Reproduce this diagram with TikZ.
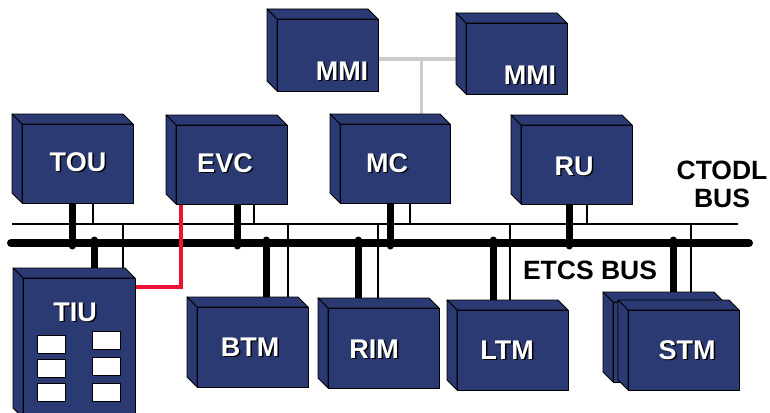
\documentclass[tikz,border=0pt]{standalone}
\usepackage{fontspec}
\setmainfont{Liberation Sans}
\usetikzlibrary{backgrounds,fit}
\definecolor{unitBlue}{HTML}{2B3A72}
\definecolor{linkRed}{HTML}{EE1133}
\definecolor{mmiGrey}{HTML}{CCCCCC}
% 3D unit: name, left, top, right, bottom of the front face
\newcommand{\unitbox}[5]{%
  \draw[unitside] (#2,#3) -- (#2-10,#3-10) -- (#4-10,#3-10) -- (#4,#3) -- cycle;
  \draw[unitside] (#2,#3) -- (#2-10,#3-10) -- (#2-10,#5-10) -- (#2,#5) -- cycle;
  \node[unit, fit={(#2,#3) (#4,#5)}] (#1) {};}
% white label with dark drop shadow
\newcommand{\shlabel}[4]{%
  \node[lblshadow] (#1-sh) at (#2+1.5,#3+1.5) {#4};
  \node[lbl] (#1) at (#2,#3) {#4};}

\begin{document}
\begin{tikzpicture}[x=1pt, y=-1pt,
  unit/.style={draw=black, fill=unitBlue, line width=0.9pt, inner sep=0pt, outer sep=0pt},
  unitside/.style={draw=black, fill=unitBlue, line width=0.9pt, line join=round},
  lbl/.style={font=\fontsize{27}{29}\selectfont\bfseries, text=white, inner sep=0pt},
  lblshadow/.style={lbl, text=black},
  buslbl/.style={font=\fontsize{26.5}{28}\selectfont\bfseries, align=center, inner sep=0pt},
  slot/.style={draw=black, fill=white, line width=0.7pt, minimum width=28pt,
               minimum height=18pt, inner sep=0pt},
  etcsbus/.style={line width=8pt, line cap=round},
  ctodlbus/.style={line width=1.3pt},
  etcslink/.style={line width=7pt, line cap=round},
  ctodllink/.style={line width=1.3pt},
  tiulink/.style={linkRed, line width=3.5pt},
  mmilink/.style={mmiGrey, line width=3pt}
]
\useasboundingbox (0,0) rectangle (770,412);
\clip (0,0) rectangle (770,412);

% units
\unitbox{mmi1}{277}{19}{378}{91}
\unitbox{mmi2}{466}{23}{567}{94}
\unitbox{tou}{22}{124}{133}{203}
\unitbox{evc}{176}{125}{287}{204}
\unitbox{mc}{340}{124}{450}{203}
\unitbox{ru}{521}{125}{632}{204}
\unitbox{tiu}{23}{278}{135}{418}
\unitbox{btm}{197}{307}{308}{387}
\unitbox{rim}{328}{308}{439}{388}
\unitbox{ltm}{457}{310}{568}{390}
\unitbox{stmb}{613}{302}{724}{382}
\unitbox{stm}{628}{310}{739}{390}

% TIU slots
\foreach \i/\x/\y in {1/51/344.5, 2/51/368, 3/51/392.5,
                      4/106/340.5, 5/106/366.5, 6/106/392.5}
  \node[slot] (tiu-s\i) at (\x,\y) {};

% labels
\shlabel{l-mmi1}{342}{71}{MMI}
\shlabel{l-mmi2}{530}{75}{MMI}
\shlabel{l-tou}{78}{162}{TOU}
\shlabel{l-evc}{225}{163}{EVC}
\shlabel{l-mc}{387}{163}{MC}
\shlabel{l-ru}{574}{166}{RU}
\shlabel{l-tiu}{75}{312}{TIU}
\shlabel{l-btm}{250}{347}{BTM}
\shlabel{l-rim}{374}{349}{RIM}
\shlabel{l-ltm}{507}{350}{LTM}
\shlabel{l-stm}{687}{350}{STM}

\node[buslbl] (ctodl-l) at (722,184) {CTODL\\BUS};
\node[buslbl] (etcs-l)  at (590,270) {ETCS BUS};

% buses and links
\begin{scope}[on background layer]
\coordinate (ctodlW) at (12,224);  \coordinate (ctodlE) at (738,224);
\coordinate (etcsW)  at (11,243);  \coordinate (etcsE)  at (749,243);
\coordinate (mmiJ)   at (421,59);
\draw[ctodlbus] (ctodlW) -- (ctodlE);
\draw[etcsbus]  (etcsW) -- (etcsE);
\foreach \n/\a/\b in {tou/72/93, evc/237/254, mc/390/410, ru/569/587} {
  \draw[etcslink, shorten >=-3pt] (\n.south -| \a,0) -- (etcsW -| \a,0);
  \draw[ctodllink] (\n.south -| \b,0) -- (ctodlW -| \b,0);
}
\foreach \n/\a/\b in {tiu/94/123, btm/266/288, rim/358/378, ltm/493/510, stm/673/691} {
  \draw[etcslink, shorten <=-3pt] (etcsW -| \a,0) -- (\n.north -| \a,0);
  \draw[ctodllink] (ctodlW -| \b,0) -- (\n.north -| \b,0);
}
\draw[tiulink] (evc.south -| 181,0) |- (tiu.east |- 0,287);
\draw[mmilink] (mmi1.east |- mmiJ) -- (mmi2.west |- mmiJ);
\draw[mmilink] (mmiJ) -- (mc.north -| mmiJ);
\end{scope}
\end{tikzpicture}
\end{document}
